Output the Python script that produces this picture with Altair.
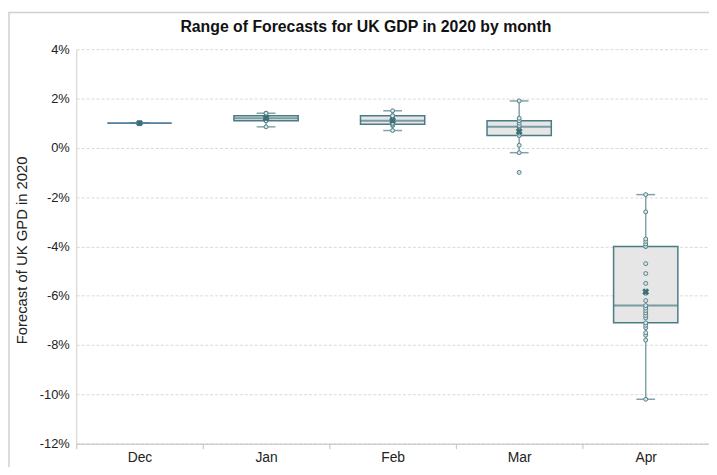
import altair as alt
import pandas as pd

months = ["Dec", "Jan", "Feb", "Mar", "Apr"]
dec_vals = [1.0, 1.0, 1.0, 1.0, 1.0]
jan_vals = [0.85, 1.1, 1.1, 1.2, 1.2, 1.3, 1.3, 1.4, 1.4]
feb_vals = [0.7, 0.9, 0.95, 1.0, 1.1, 1.2, 1.3, 1.3, 1.5]
mar_vals = [-1.0, -0.2, 0.1, 0.5, 0.5, 0.6, 0.85, 0.9, 1.0, 1.1, 1.1, 1.2, 1.9]
apr_vals = [-10.2, -7.8, -7.6, -7.5, -7.3, -7.2, -7.1, -6.9, -6.8, -6.7, -6.6,
            -6.5, -6.4, -6.2, -5.9, -5.5, -5.1, -4.7, -4.0, -4.0, -3.9, -3.8,
            -3.7, -2.6, -1.9]
y_ticks = [-12, -10, -8, -6, -4, -2, 0, 2, 4]

series = [dec_vals, jan_vals, feb_vals, mar_vals, apr_vals]
rows = []
for m, vals in zip(months, series):
    for v in vals:
        rows.append({"month": m, "value": v})
df = pd.DataFrame(rows)

FONT = "Liberation Sans"
BOX = "#4a7c85"
WHISK = "#7fa3a9"

x_enc = alt.X("month:N", sort=months,
              scale=alt.Scale(domain=months, paddingInner=0, paddingOuter=0),
              axis=alt.Axis(title=None, labelAngle=0, labelFontSize=14, labelFont=FONT,
                            labelColor="#222222", labelPadding=2, ticks=True,
                            tickBand="extent", tickSize=5, tickColor="#bfbfbf",
                            domainColor="#bfbfbf", domainWidth=1, grid=False))
y_enc = alt.Y("value:Q",
              scale=alt.Scale(domain=[-12, 4], nice=False, zero=False),
              axis=alt.Axis(values=y_ticks, labelExpr="datum.value + '%'",
                            labelFontSize=13, labelFont=FONT, labelColor="#222222",
                            labelPadding=7, ticks=False, grid=True, gridDash=[3, 2],
                            gridColor="#d9d9d9", domain=True, domainColor="#d0d0d0",
                            title="Forecast of UK GPD in 2020", titleFont=FONT,
                            titleFontSize=15, titleFontWeight="normal",
                            titleColor="#222222", titleX=-55, titleY=203,
                            titleAngle=270, titleAlign="center", titleBaseline="middle"))

frame = alt.Chart(pd.DataFrame({"a": [0]})).mark_rect(
    fillOpacity=0, stroke="#d0d0d0", strokeWidth=1.5, clip=False
).encode(x=alt.value(-68), x2=alt.value(800), y=alt.value(-37), y2=alt.value(600))

box = alt.Chart(df).mark_boxplot(
    extent=1.5, size=65, outliers=False,
    box={"color": "#e6e6e6", "stroke": BOX, "strokeWidth": 1.5},
    median={"color": BOX, "thickness": 2},
    rule={"color": WHISK, "strokeWidth": 1.5},
    ticks={"color": WHISK, "size": 19, "thickness": 1.5},
).encode(x=x_enc, y=y_enc)

points = alt.Chart(df).mark_point(
    shape="circle", size=16, filled=True, fill="#dde5e6", stroke="#4f7f88",
    strokeWidth=1, opacity=1, fillOpacity=1, strokeOpacity=1
).encode(x=alt.X("month:N", sort=months), y="value:Q")

mean = alt.Chart(df).mark_point(
    shape="cross", angle=45, size=50, filled=True, color="#3e6f78", opacity=1
).encode(x=alt.X("month:N", sort=months), y="mean(value):Q")

chart = alt.layer(frame, box, points, mean).properties(
    width=640, height=399,
    autosize=alt.AutoSizeParams(type="none"),
    padding={"left": 69, "top": 39, "right": 0, "bottom": 21},
    title=alt.TitleParams("Range of Forecasts for UK GDP in 2020 by month",
                          font=FONT, fontSize=16, fontWeight="bold", color="#111111",
                          anchor="middle", dx=-27, offset=-23),
).configure_view(stroke=None)

chart.save("out.html", embed_options={"renderer": "svg", "actions": False})
